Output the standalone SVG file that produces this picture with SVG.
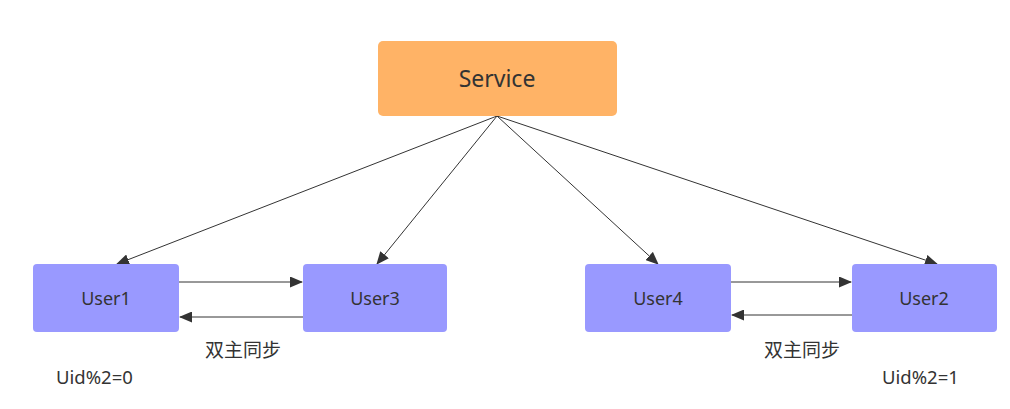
<svg xmlns="http://www.w3.org/2000/svg" width="1010" height="409" viewBox="0 0 1010 409">
<style>
.node{fill:#9999FF;}
.svc{fill:#FFB366;}
.t{font-family:"Noto Sans","Noto Sans CJK SC",sans-serif;fill:#333333;text-anchor:middle;dominant-baseline:central;}
.s{text-anchor:start;}
.edge{stroke:#333333;stroke-width:1;fill:none;marker-end:url(#ah);}
</style>
<defs>
<marker id="ah" markerWidth="13" markerHeight="11" refX="12" refY="5.5" orient="auto" markerUnits="userSpaceOnUse">
<path d="M0,0 L13,5.5 L0,11 Z" fill="#333333"/>
</marker>
</defs>
<rect width="1010" height="409" fill="#ffffff"/>
<g id="connectors">
<line class="edge" x1="497" y1="116" x2="117" y2="264"/>
<line class="edge" x1="497" y1="116" x2="377" y2="264"/>
<line class="edge" x1="497" y1="116" x2="658" y2="264"/>
<line class="edge" x1="497" y1="116" x2="937" y2="264"/>
<line class="edge" x1="179" y1="282" x2="302" y2="282"/>
<line class="edge" x1="303" y1="317" x2="180" y2="317"/>
<line class="edge" x1="731" y1="282" x2="851" y2="282"/>
<line class="edge" x1="852" y1="315" x2="732" y2="315"/>
</g>
<g id="service">
<rect class="svc" x="378" y="41" width="239" height="75" rx="5"/>
<text class="t" x="497" y="78" font-size="23">Service</text>
</g>
<g id="user1">
<rect class="node" x="33" y="264" width="146" height="68" rx="4"/>
<text class="t" x="106" y="298" font-size="18">User1</text>
</g>
<g id="user3">
<rect class="node" x="303" y="264" width="144" height="68" rx="4"/>
<text class="t" x="375" y="298" font-size="18">User3</text>
</g>
<g id="user4">
<rect class="node" x="585" y="264" width="146" height="68" rx="4"/>
<text class="t" x="658" y="298" font-size="18">User4</text>
</g>
<g id="user2">
<rect class="node" x="852" y="264" width="145" height="68" rx="4"/>
<text class="t" x="924" y="298" font-size="18">User2</text>
</g>
<g id="labels">
<text class="t" x="243" y="350" font-size="19">双主同步</text>
<text class="t" x="802" y="350" font-size="19">双主同步</text>
<text class="t s" x="56" y="376" font-size="18.5">Uid%2=0</text>
<text class="t s" x="882" y="376" font-size="18.5">Uid%2=1</text>
</g>
</svg>
